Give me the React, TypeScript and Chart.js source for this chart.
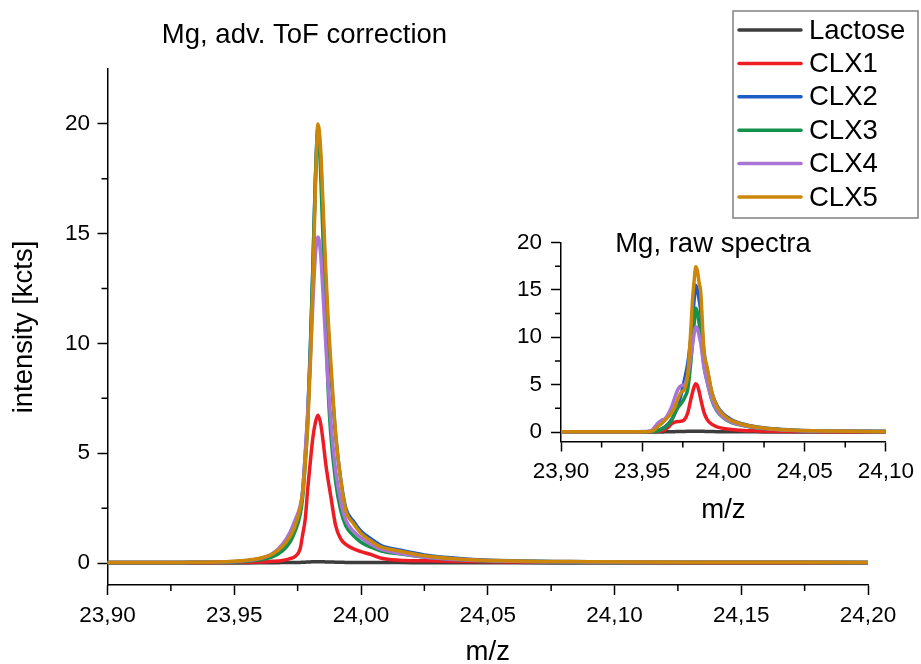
import React, { useEffect, useRef } from 'react';
import { Chart, registerables } from 'chart.js';

Chart.register(...registerables);

// ---------------- data ----------------
const SERIES_NAMES = ['Lactose', 'CLX1', 'CLX2', 'CLX3', 'CLX4', 'CLX5'];
const SERIES_COLORS = ['#3d3d3d', '#ee1d25', '#1c5cc4', '#14924c', '#a874d6', '#cc8609'];

const MAIN_TITLE = 'Mg, adv. ToF correction';
const INSET_TITLE = 'Mg, raw spectra';
const X_TITLE = 'm/z';
const Y_TITLE = 'intensity [kcts]';

const MAIN_X_TICKS = [23.9, 23.95, 24.0, 24.05, 24.1, 24.15, 24.2];
const MAIN_X_MINOR = [23.925, 23.975, 24.025, 24.075, 24.125, 24.175];
const MAIN_Y_TICKS = [0, 5, 10, 15, 20];
const MAIN_Y_MINOR = [2.5, 7.5, 12.5, 17.5];

const INSET_X_TICKS = [23.9, 23.95, 24.0, 24.05, 24.1];
const INSET_X_MINOR = [23.925, 23.975, 24.025, 24.075];
const INSET_Y_TICKS = [0, 5, 10, 15, 20];
const INSET_Y_MINOR = [2.5, 7.5, 12.5, 17.5];

// main panel (advanced ToF correction)
const MAIN_MZ = [
  23.900, 23.930, 23.950, 23.960, 23.965, 23.969, 23.972, 23.974, 23.976, 23.977,
  23.978, 23.979, 23.980, 23.981, 23.982, 23.983, 23.984, 23.985, 23.986, 23.987,
  23.988, 23.990, 23.992, 23.994, 23.997, 24.000, 24.004, 24.008, 24.015, 24.025,
  24.040, 24.060, 24.090, 24.130, 24.200,
];
const MAIN_LACTOSE = [
  0, 0, 0, 0.01, 0.01, 0.02, 0.02, 0.03, 0.03, 0.04,
  0.04, 0.05, 0.05, 0.06, 0.06, 0.06, 0.06, 0.06, 0.05, 0.05,
  0.05, 0.04, 0.04, 0.03, 0.03, 0.03, 0.02, 0.02, 0.02, 0.01,
  0.01, 0.01, 0, 0, 0,
];
const MAIN_CLX1 = [
  0.02, 0.02, 0.03, 0.05, 0.08, 0.12, 0.2, 0.3, 0.65, 1.3,
  2.0, 3.4, 4.6, 5.7, 6.4, 6.73, 6.4, 5.6, 4.6, 3.8,
  3.1, 1.7, 1.1, 0.85, 0.65, 0.52, 0.38, 0.22, 0.13, 0.1,
  0.07, 0.05, 0.04, 0.03, 0.03,
];
const MAIN_CLX2 = [
  0.02, 0.03, 0.06, 0.18, 0.33, 0.62, 1.05, 1.55, 2.4, 3.3,
  4.9, 6.8, 9.8, 13.4, 17.5, 19.8, 18.6, 15.8, 13.0, 10.7,
  8.9, 5.8, 3.8, 2.5, 1.9, 1.45, 1.1, 0.8, 0.6, 0.37,
  0.2, 0.1, 0.06, 0.04, 0.03,
];
const MAIN_CLX3 = [
  0.02, 0.03, 0.05, 0.15, 0.28, 0.55, 0.95, 1.45, 2.2, 3.0,
  4.5, 6.5, 9.6, 13.4, 17.4, 19.6, 18.0, 14.8, 11.0, 8.0,
  6.0, 3.7, 2.4, 1.7, 1.25, 0.95, 0.72, 0.55, 0.42, 0.27,
  0.14, 0.08, 0.05, 0.04, 0.03,
];
const MAIN_CLX4 = [
  0.02, 0.03, 0.07, 0.2, 0.42, 0.85, 1.4, 1.95, 2.6, 3.3,
  5.0, 6.9, 9.2, 11.8, 14.0, 14.85, 14.2, 12.3, 10.2, 8.2,
  6.6, 4.2, 2.8, 1.95, 1.45, 1.15, 0.85, 0.62, 0.45, 0.28,
  0.15, 0.08, 0.05, 0.04, 0.03,
];
const MAIN_CLX5 = [
  0.02, 0.03, 0.08, 0.22, 0.4, 0.75, 1.2, 1.7, 2.5, 3.2,
  4.6, 6.3, 9.0, 12.6, 17.0, 20.0, 19.0, 16.4, 13.6, 11.2,
  9.3, 5.9, 3.8, 2.4, 1.8, 1.35, 1.0, 0.72, 0.55, 0.33,
  0.17, 0.09, 0.06, 0.04, 0.03,
];

// inset panel (raw spectra)
const INSET_MZ = [
  23.900, 23.940, 23.952, 23.956, 23.958, 23.960, 23.962, 23.964, 23.966, 23.968,
  23.970, 23.972, 23.974, 23.976, 23.978, 23.980, 23.981, 23.982, 23.983, 23.984,
  23.985, 23.986, 23.988, 23.990, 23.993, 23.996, 24.000, 24.005, 24.012, 24.020,
  24.030, 24.045, 24.060, 24.080, 24.100,
];
const INSET_LACTOSE = [
  0, 0, 0, 0, 0, 0.01, 0.01, 0.02, 0.02, 0.03,
  0.04, 0.05, 0.05, 0.06, 0.07, 0.08, 0.08, 0.09, 0.09, 0.09,
  0.08, 0.08, 0.07, 0.06, 0.05, 0.04, 0.03, 0.03, 0.02, 0.02,
  0.01, 0.01, 0.01, 0, 0,
];
const INSET_CLX1 = [
  0.02, 0.02, 0.03, 0.04, 0.05, 0.08, 0.12, 0.25, 0.5, 0.85,
  1.05, 1.1, 1.15, 1.3, 2.0, 3.5, 4.2, 4.8, 5.1, 4.9,
  4.3, 3.5, 2.1, 1.3, 0.8, 0.55, 0.38, 0.26, 0.17, 0.12,
  0.08, 0.05, 0.04, 0.03, 0.03,
];
const INSET_CLX2 = [
  0.02, 0.02, 0.03, 0.06, 0.1, 0.2, 0.35, 0.55, 0.85, 1.3,
  1.9, 2.8, 4.0, 5.5, 7.2, 10.0, 12.0, 14.0, 15.5, 15.0,
  14.0, 12.8, 8.5, 6.6, 4.1, 2.8, 1.9, 1.3, 0.85, 0.55,
  0.35, 0.2, 0.13, 0.09, 0.07,
];
const INSET_CLX3 = [
  0.02, 0.02, 0.03, 0.05, 0.08, 0.15, 0.3, 0.5, 0.8, 1.2,
  2.0, 2.6, 3.0, 3.6, 4.5, 7.5, 9.5, 11.5, 13.05, 12.6,
  11.5, 10.3, 7.0, 5.3, 3.3, 2.2, 1.5, 1.0, 0.68, 0.45,
  0.3, 0.17, 0.11, 0.07, 0.05,
];
const INSET_CLX4 = [
  0.02, 0.02, 0.05, 0.2, 0.6, 1.0, 1.25, 1.4, 1.9, 2.6,
  3.6, 4.5, 4.9, 5.0, 6.0, 8.0, 9.2, 10.4, 11.1, 10.9,
  10.2, 9.4, 6.9, 5.3, 3.4, 2.3, 1.55, 1.05, 0.7, 0.47,
  0.3, 0.17, 0.11, 0.07, 0.05,
];
const INSET_CLX5 = [
  0.02, 0.02, 0.04, 0.1, 0.3, 0.65, 0.9, 1.25, 1.6, 2.0,
  2.6, 3.5, 4.2, 4.5, 6.0, 11.0, 14.0, 16.0, 17.45, 17.0,
  15.8, 14.8, 8.6, 6.8, 4.1, 2.7, 1.8, 1.2, 0.8, 0.52,
  0.32, 0.18, 0.12, 0.08, 0.06,
];

// ---------------- helpers ----------------
const FONT = "'Liberation Sans', Arial, Helvetica, sans-serif";
const TICK_SIZE = 22.5;
const TEXT_SIZE = 27.5;

const fmtX = (v: any) => Number(v).toFixed(2).replace('.', ',');
const fmtY = (v: any) => String(Math.round(Number(v)));

function buildDatasets(mz: number[], series: number[][]) {
  return SERIES_NAMES.map((name, i) => ({
    label: name,
    data: mz.map((x, j) => ({ x, y: series[i][j] })),
    borderColor: SERIES_COLORS[i],
    backgroundColor: SERIES_COLORS[i],
    borderWidth: 3.5,
    pointRadius: 0,
    pointHoverRadius: 0,
    cubicInterpolationMode: 'monotone' as const,
    borderJoinStyle: 'round' as const,
    fill: false,
    order: SERIES_NAMES.length - i,
  }));
}

const decorPlugin = {
  id: 'decor',
  afterDraw(chart: any, _args: any, opts: any) {
    const ctx = chart.ctx as CanvasRenderingContext2D;
    const xs = chart.scales.x;
    const ys = chart.scales.y;
    ctx.save();
    // minor ticks
    ctx.strokeStyle = '#000';
    ctx.lineWidth = 1.5;
    ctx.beginPath();
    for (const v of opts.xMinor || []) {
      const px = xs.getPixelForValue(v);
      ctx.moveTo(px, xs.top);
      ctx.lineTo(px, xs.top + opts.minorLen);
    }
    for (const v of opts.yMinor || []) {
      const py = ys.getPixelForValue(v);
      ctx.moveTo(ys.right, py);
      ctx.lineTo(ys.right - opts.minorLen, py);
    }
    ctx.stroke();
    // title
    if (opts.title) {
      ctx.fillStyle = '#000';
      ctx.font = `${opts.titleSize}px ${FONT}`;
      ctx.textAlign = 'center';
      ctx.textBaseline = 'middle';
      ctx.fillText(opts.title, opts.titleX, opts.titleY);
    }
    // legend
    const lg = opts.legend;
    if (lg) {
      ctx.fillStyle = '#fff';
      ctx.fillRect(lg.x, lg.y, lg.w, lg.h);
      ctx.strokeStyle = '#808080';
      ctx.lineWidth = 1.5;
      ctx.strokeRect(lg.x, lg.y, lg.w, lg.h);
      ctx.font = `${lg.size}px ${FONT}`;
      ctx.textAlign = 'left';
      ctx.textBaseline = 'middle';
      chart.data.datasets.forEach((ds: any, i: number) => {
        const y = lg.rowY0 + i * lg.rowGap;
        ctx.strokeStyle = ds.borderColor;
        ctx.lineWidth = 3.5;
        ctx.lineCap = 'round';
        ctx.beginPath();
        ctx.moveTo(lg.lineX0, y);
        ctx.lineTo(lg.lineX1, y);
        ctx.stroke();
        ctx.fillStyle = '#000';
        ctx.fillText(ds.label, lg.textX, y + 1);
      });
    }
    ctx.restore();
  },
};

function axisCommon() {
  return {
    type: 'linear' as const,
    grid: {
      display: true,
      drawOnChartArea: false,
      drawTicks: true,
      tickLength: 10,
      tickWidth: 1.5,
      tickColor: '#000',
    },
    border: { display: true, color: '#000', width: 1.5 },
  };
}

function mainConfig(): any {
  return {
    type: 'line',
    data: {
      datasets: buildDatasets(MAIN_MZ, [MAIN_LACTOSE, MAIN_CLX1, MAIN_CLX2, MAIN_CLX3, MAIN_CLX4, MAIN_CLX5]),
    },
    options: {
      animation: false,
      responsive: false,
      maintainAspectRatio: false,
      events: [],
      layout: { padding: { top: 69, right: 53, left: 0, bottom: 0 } },
      plugins: {
        legend: { display: false },
        tooltip: { enabled: false },
        decor: {
          xMinor: MAIN_X_MINOR,
          yMinor: MAIN_Y_MINOR,
          minorLen: 6,
          title: MAIN_TITLE,
          titleX: 304.5,
          titleY: 35,
          titleSize: TEXT_SIZE,
          legend: {
            x: 733, y: 11, w: 185, h: 207,
            rowY0: 30, rowGap: 33.4,
            lineX0: 739, lineX1: 801, textX: 809, size: TEXT_SIZE,
          },
        },
      },
      scales: {
        x: {
          ...axisCommon(),
          min: 23.9,
          max: 24.2,
          afterBuildTicks: (s: any) => { s.ticks = MAIN_X_TICKS.map((v) => ({ value: v })); },
          afterFit: (s: any) => { s.height = 79; },
          ticks: {
            callback: fmtX, color: '#000', padding: 7, autoSkip: false, maxRotation: 0,
            font: { family: FONT, size: TICK_SIZE },
          },
          title: {
            display: true, text: X_TITLE, color: '#000',
            font: { family: FONT, size: TEXT_SIZE, lineHeight: 0.85 },
            padding: { top: 0, bottom: 0 },
          },
        },
        y: {
          ...axisCommon(),
          min: -1,
          max: 22.5,
          afterBuildTicks: (s: any) => { s.ticks = MAIN_Y_TICKS.map((v) => ({ value: v })); },
          afterFit: (s: any) => { s.width = 107.5; },
          ticks: {
            callback: fmtY, color: '#000', padding: 7.5, autoSkip: false,
            font: { family: FONT, size: TICK_SIZE },
          },
          title: {
            display: true, text: Y_TITLE, color: '#000',
            font: { family: FONT, size: TEXT_SIZE, lineHeight: 0.85 },
            padding: { top: 13, bottom: 0 },
          },
        },
      },
    },
    plugins: [decorPlugin],
  };
}

function insetConfig(): any {
  return {
    type: 'line',
    data: {
      datasets: buildDatasets(INSET_MZ, [INSET_LACTOSE, INSET_CLX1, INSET_CLX2, INSET_CLX3, INSET_CLX4, INSET_CLX5]),
    },
    options: {
      animation: false,
      responsive: false,
      maintainAspectRatio: false,
      events: [],
      layout: { padding: { top: 22.5, right: 30, left: 0, bottom: 0 } },
      plugins: {
        legend: { display: false },
        tooltip: { enabled: false },
        decor: {
          xMinor: INSET_X_MINOR,
          yMinor: INSET_Y_MINOR,
          minorLen: 6,
          title: INSET_TITLE,
          titleX: 233,
          titleY: 24,
          titleSize: TEXT_SIZE,
        },
      },
      scales: {
        x: {
          ...axisCommon(),
          min: 23.9,
          max: 24.1,
          afterBuildTicks: (s: any) => { s.ticks = INSET_X_TICKS.map((v) => ({ value: v })); },
          afterFit: (s: any) => { s.height = 88.5; },
          ticks: {
            callback: fmtX, color: '#000', padding: 7, autoSkip: false, maxRotation: 0,
            font: { family: FONT, size: TICK_SIZE },
          },
          title: {
            display: true, text: X_TITLE, color: '#000',
            font: { family: FONT, size: TEXT_SIZE, lineHeight: 0.85 },
            padding: { top: 0, bottom: 8 },
          },
        },
        y: {
          ...axisCommon(),
          min: -1,
          max: 20,
          afterBuildTicks: (s: any) => { s.ticks = INSET_Y_TICKS.map((v) => ({ value: v })); },
          afterFit: (s: any) => { s.width = 81; },
          ticks: {
            callback: fmtY, color: '#000', padding: 9, autoSkip: false,
            font: { family: FONT, size: TICK_SIZE },
          },
          title: { display: false },
        },
      },
    },
    plugins: [decorPlugin],
  };
}

export default function App() {
  const mainRef = useRef<HTMLCanvasElement>(null);
  const insetRef = useRef<HTMLCanvasElement>(null);

  useEffect(() => {
    const main = new Chart(mainRef.current as HTMLCanvasElement, mainConfig());
    const inset = new Chart(insetRef.current as HTMLCanvasElement, insetConfig());
    return () => {
      main.destroy();
      inset.destroy();
    };
  }, []);

  return (
    <div style={{ position: 'absolute', left: 0, top: 0, width: 921, height: 664, background: '#fff' }}>
      <canvas
        ref={mainRef}
        width={921}
        height={664}
        style={{ position: 'absolute', left: 0, top: 0, width: 921, height: 664 }}
      />
      <canvas
        ref={insetRef}
        width={441}
        height={310}
        style={{ position: 'absolute', left: 480, top: 220, width: 441, height: 310 }}
      />
    </div>
  );
}
